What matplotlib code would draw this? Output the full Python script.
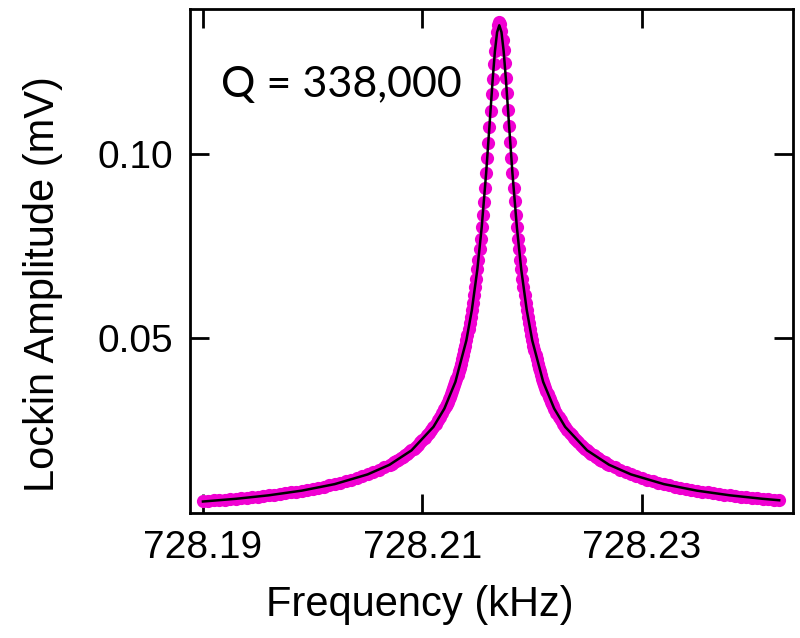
import matplotlib.pyplot as plt
from matplotlib.ticker import FormatStrFormatter

freq_khz = [
    # left tail
    728.1900, 728.1905, 728.1910, 728.1915, 728.1920, 728.1925, 728.1930, 728.1935, 728.1940, 728.1945,
    728.1950, 728.1955, 728.1960, 728.1965, 728.1970, 728.1975, 728.1980, 728.1985, 728.1990, 728.1995,
    728.2000, 728.2005, 728.2010, 728.2015, 728.2020, 728.2025, 728.2030, 728.2035, 728.2040, 728.2045,
    728.2050, 728.2055, 728.2060, 728.2065,
    728.2070, 728.2072, 728.2074, 728.2076, 728.2078, 728.2080, 728.2082, 728.2084, 728.2086, 728.2088,
    728.2090, 728.2092, 728.2094, 728.2096, 728.2098, 728.2100, 728.2102, 728.2104, 728.2106, 728.2108,
    728.2110, 728.2112, 728.2114, 728.2116, 728.2118,
    # around the resonance
    728.2120, 728.2121, 728.2122, 728.2123, 728.2124, 728.2125, 728.2126, 728.2127, 728.2128, 728.2129,
    728.2130, 728.2131, 728.2132, 728.2133, 728.2134, 728.2135, 728.2136, 728.2137, 728.2138, 728.2139,
    728.2140, 728.2141, 728.2142, 728.2143, 728.2144, 728.2145, 728.2146, 728.2147, 728.2148, 728.2149,
    728.2150, 728.2151, 728.2152, 728.2153, 728.2154, 728.2155, 728.2156, 728.2157, 728.2158, 728.2159,
    728.2160, 728.2161, 728.2162, 728.2163, 728.2164, 728.2165, 728.2166, 728.2167, 728.2168, 728.2169,
    728.2170,
    728.2171, 728.2172, 728.2173, 728.2174, 728.2175, 728.2176, 728.2177, 728.2178, 728.2179, 728.2180,
    728.2181, 728.2182, 728.2183, 728.2184, 728.2185, 728.2186, 728.2187, 728.2188, 728.2189, 728.2190,
    728.2191, 728.2192, 728.2193, 728.2194, 728.2195, 728.2196, 728.2197, 728.2198, 728.2199, 728.2200,
    728.2201, 728.2202, 728.2203, 728.2204, 728.2205, 728.2206, 728.2207, 728.2208, 728.2209, 728.2210,
    728.2211, 728.2212, 728.2213, 728.2214, 728.2215, 728.2216, 728.2217, 728.2218, 728.2219, 728.2220,
    # right tail
    728.2222, 728.2224, 728.2226, 728.2228, 728.2230, 728.2232, 728.2234, 728.2236, 728.2238, 728.2240,
    728.2242, 728.2244, 728.2246, 728.2248, 728.2250, 728.2252, 728.2254, 728.2256, 728.2258, 728.2260,
    728.2262, 728.2264, 728.2266, 728.2268, 728.2270,
    728.2275, 728.2280, 728.2285, 728.2290, 728.2295, 728.2300, 728.2305, 728.2310, 728.2315, 728.2320,
    728.2325, 728.2330, 728.2335, 728.2340, 728.2345, 728.2350, 728.2355, 728.2360, 728.2365, 728.2370,
    728.2375, 728.2380, 728.2385, 728.2390, 728.2395, 728.2400, 728.2405, 728.2410, 728.2415, 728.2420,
    728.2425,
]
amp_mv = [
    0.00600, 0.00610, 0.00620, 0.00630, 0.00642, 0.00654, 0.00666, 0.00680, 0.00694, 0.00709,
    0.00725, 0.00741, 0.00759, 0.00777, 0.00797, 0.00817, 0.00838, 0.00861, 0.00885, 0.00910,
    0.00937, 0.00965, 0.00995, 0.01027, 0.01061, 0.01097, 0.01136, 0.01178, 0.01223, 0.01271,
    0.01324, 0.01381, 0.01443, 0.01511,
    0.01585, 0.01617, 0.01650, 0.01685, 0.01721, 0.01758, 0.01798, 0.01839, 0.01882, 0.01927,
    0.01974, 0.02023, 0.02075, 0.02130, 0.02188, 0.02248, 0.02312, 0.02380, 0.02452, 0.02529,
    0.02610, 0.02696, 0.02789, 0.02887, 0.02993,
    0.03106, 0.03166, 0.03228, 0.03293, 0.03360, 0.03430, 0.03503, 0.03579, 0.03658, 0.03740,
    0.03826, 0.03916, 0.04010, 0.04109, 0.04212, 0.04320, 0.04433, 0.04552, 0.04678, 0.04810,
    0.04949, 0.05095, 0.05250, 0.05413, 0.05586, 0.05770, 0.05964, 0.06169, 0.06388, 0.06620,
    0.06866, 0.07128, 0.07407, 0.07703, 0.08017, 0.08350, 0.08703, 0.09074, 0.09465, 0.09873,
    0.10294, 0.10727, 0.11164, 0.11598, 0.12018, 0.12410, 0.12763, 0.13058, 0.13300, 0.13480,
    0.13560,
    0.13500, 0.13320, 0.13080, 0.12790, 0.12440, 0.12050, 0.11630, 0.11190, 0.10750, 0.10310,
    0.09885, 0.09470, 0.09080, 0.08705, 0.08350, 0.08017, 0.07703, 0.07407, 0.07128, 0.06866,
    0.06620, 0.06388, 0.06169, 0.05964, 0.05770, 0.05586, 0.05413, 0.05250, 0.05095, 0.04949,
    0.04810, 0.04678, 0.04552, 0.04433, 0.04320, 0.04212, 0.04109, 0.04010, 0.03916, 0.03826,
    0.03740, 0.03658, 0.03579, 0.03503, 0.03430, 0.03360, 0.03293, 0.03228, 0.03166, 0.03106,
    0.02993, 0.02887, 0.02789, 0.02696, 0.02610, 0.02529, 0.02452, 0.02380, 0.02312, 0.02248,
    0.02188, 0.02130, 0.02075, 0.02023, 0.01974, 0.01927, 0.01882, 0.01839, 0.01798, 0.01758,
    0.01721, 0.01685, 0.01650, 0.01617, 0.01585,
    0.01511, 0.01443, 0.01381, 0.01324, 0.01271, 0.01223, 0.01178, 0.01136, 0.01097, 0.01061,
    0.01027, 0.00995, 0.00965, 0.00937, 0.00910, 0.00885, 0.00861, 0.00838, 0.00817, 0.00797,
    0.00777, 0.00759, 0.00741, 0.00725, 0.00708, 0.00693, 0.00678, 0.00664, 0.00651, 0.00638,
    0.00625,
]

# Lorentzian fit curve
fit_freq = [
    728.1900, 728.1930, 728.1960, 728.1990, 728.2020, 728.2050, 728.2070, 728.2090,
    728.2110, 728.2120, 728.2130, 728.2140, 728.2145, 728.2150, 728.2154, 728.2158,
    728.2161, 728.2164, 728.2166, 728.2168, 728.2170, 728.2172, 728.2174, 728.2176,
    728.2179, 728.2182, 728.2186, 728.2190, 728.2195, 728.2200, 728.2210, 728.2220,
    728.2230, 728.2250, 728.2270, 728.2290, 728.2320, 728.2350, 728.2380, 728.2410,
    728.2425,
]
fit_amp = [
    0.00591, 0.00664, 0.00759, 0.00885, 0.01061, 0.01324, 0.01585, 0.01974,
    0.02610, 0.03106, 0.03826, 0.04949, 0.05770, 0.06866, 0.08017, 0.09465,
    0.10727, 0.12018, 0.12763, 0.13282, 0.13470, 0.13282, 0.12763, 0.12018,
    0.10727, 0.09465, 0.08017, 0.06866, 0.05770, 0.04949, 0.03826, 0.03106,
    0.02610, 0.01974, 0.01585, 0.01324, 0.01061, 0.00885, 0.00759, 0.00664,
    0.00625,
]

q_text = "Q = 338,000"
x_ticks = [728.19, 728.21, 728.23]
y_ticks = [0.05, 0.10]

plt.rcParams["font.family"] = ["Liberation Sans", "DejaVu Sans"]

fig = plt.figure(figsize=(8, 6.38), dpi=100)
ax = fig.add_axes([0.2375, 0.1959, 0.75375, 0.79])

ax.plot(freq_khz, amp_mv, "o", ms=9.5, color="#F000D2", mec="none", zorder=2)
ax.plot(fit_freq, fit_amp, color="black", lw=1.8, zorder=3)

ax.set_xlim(728.18882, 728.24376)
ax.set_ylim(0.0028, 0.1391)
ax.set_xticks(x_ticks)
ax.set_yticks(y_ticks)
ax.xaxis.set_major_formatter(FormatStrFormatter("%.2f"))
ax.yaxis.set_major_formatter(FormatStrFormatter("%.2f"))
ax.tick_params(direction="in", length=14, width=2, top=True, right=True,
               labelsize=28, pad=12)
for sp in ax.spines.values():
    sp.set_linewidth(2)

ax.text(0.0514, 0.826, q_text, transform=ax.transAxes, fontsize=31,
        family="Lato", ha="left", va="baseline")

fig.text(420 / 800, 1 - 605 / 638, "Frequency (kHz)", fontsize=30,
         ha="center", va="center")
fig.text(43 / 800, 1 - 284 / 638, "Lockin Amplitude (mV)", fontsize=30,
         rotation=90, ha="center", va="center")

fig.savefig("out.png", dpi=100)
